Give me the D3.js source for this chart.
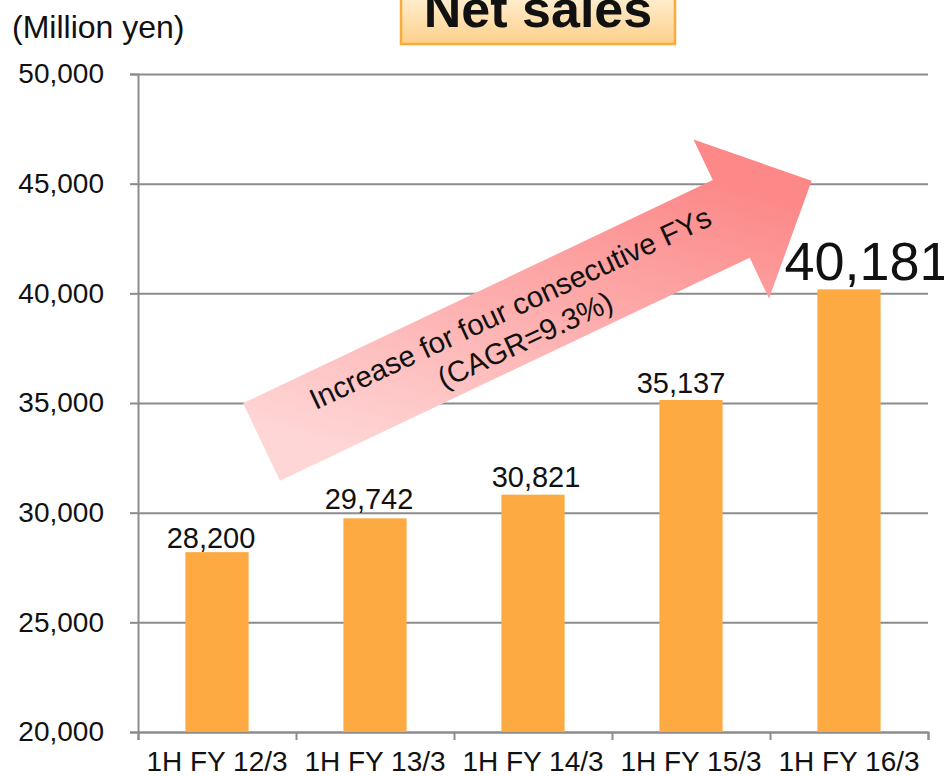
<!DOCTYPE html>
<html>
<head>
<meta charset="utf-8">
<script src="https://cdn.jsdelivr.net/npm/d3@7/dist/d3.min.js"></script>
<style>
  html, body { margin: 0; padding: 0; background: #fff; }
  svg { display: block; font-family: Arial, "Liberation Sans", sans-serif; }
</style>
</head>
<body>
<svg id="chart" width="944" height="776"></svg>
<script>
const categories = ["1H FY 12/3", "1H FY 13/3", "1H FY 14/3", "1H FY 15/3", "1H FY 16/3"];
const netSales = [28200, 29742, 30821, 35137, 40181];
const yTicks = [20000, 25000, 30000, 35000, 40000, 45000, 50000];
const unitLabel = "(Million yen)";
const titleText = "Net sales";
const arrowLines = ["Increase for four consecutive FYs", "(CAGR=9.3%)"];

// layout nudges for value labels (pixels)
const labelDx = [-6, -6, 3, -10, 18];
const labelDy = [4, 9, 8, 7, 9];

const svg = d3.select("#chart");
const plotL = 138, plotR = 928, plotT = 74, plotB = 732;

const y = d3.scaleLinear().domain([20000, 50000]).range([plotB, plotT]);
const x = d3.scaleBand().domain(categories).range([plotL, plotR]).paddingInner(0.6).paddingOuter(0.3);

const defs = svg.append("defs");
const ag = defs.append("linearGradient").attr("id", "arrowGrad")
  .attr("gradientUnits", "userSpaceOnUse")
  .attr("x1", 580).attr("y1", 140).attr("x2", 480).attr("y2", 490);
ag.append("stop").attr("offset", "0%").attr("stop-color", "#fc8888");
ag.append("stop").attr("offset", "100%").attr("stop-color", "#ffd6d6");
const tg = defs.append("linearGradient").attr("id", "titleGrad")
  .attr("x1", 0).attr("y1", 0).attr("x2", 0).attr("y2", 1);
tg.append("stop").attr("offset", "0%").attr("stop-color", "#fff3dd");
tg.append("stop").attr("offset", "100%").attr("stop-color", "#fdd08a");

// gridlines
const grid = svg.append("g").attr("transform", `translate(${plotL},0)`)
  .call(d3.axisLeft(y).tickValues(yTicks).tickSize(-(plotR - plotL)).tickFormat(""));
grid.select(".domain").remove();
grid.selectAll(".tick line").attr("stroke", "#8c8c8c").attr("stroke-width", 2);

// y axis with labels
const yAxis = svg.append("g").attr("transform", `translate(${plotL},0)`)
  .call(d3.axisLeft(y).tickValues(yTicks).tickSize(8).tickPadding(26).tickFormat(d3.format(",")));
yAxis.select(".domain").attr("stroke", "#8c8c8c").attr("stroke-width", 2);
yAxis.selectAll(".tick line").attr("stroke", "#8c8c8c").attr("stroke-width", 2);
yAxis.selectAll(".tick text").attr("font-size", 28).attr("fill", "#111").attr("font-family", "Arial, 'Liberation Sans', sans-serif");

// x axis ticks at band boundaries
const xb = d3.scaleLinear().domain([0, categories.length]).range([plotL, plotR]);
const xTickAxis = svg.append("g").attr("transform", `translate(0,${plotB})`)
  .call(d3.axisBottom(xb).ticks(categories.length).tickSize(8).tickFormat(""));
xTickAxis.select(".domain").attr("stroke", "#8c8c8c").attr("stroke-width", 2);
xTickAxis.selectAll(".tick line").attr("stroke", "#8c8c8c").attr("stroke-width", 2);

const xAxis = svg.append("g").attr("transform", `translate(0,${plotB})`)
  .call(d3.axisBottom(x).tickSize(0).tickPadding(19));
xAxis.select(".domain").remove();
xAxis.selectAll(".tick text").attr("font-size", 28).attr("fill", "#111").attr("font-family", "Arial, 'Liberation Sans', sans-serif");

// bars
svg.append("g").selectAll("rect").data(netSales).join("rect")
  .attr("x", (d, i) => x(categories[i]))
  .attr("y", d => y(d))
  .attr("width", x.bandwidth())
  .attr("height", d => y(20000) - y(d))
  .attr("fill", "#fcaa41");

// arrow annotation
const tail = [261.5, 442];
const ang = -25.4;
const shaftHalf = 43, headHalf = 88, neck = 520, tipLen = 609;
const pts = [[0, -shaftHalf], [neck, -shaftHalf], [neck, -headHalf], [tipLen, 0], [neck, headHalf], [neck, shaftHalf], [0, shaftHalf]];
const rad = ang * Math.PI / 180;
const abs = pts.map(([px, py]) => [tail[0] + px * Math.cos(rad) - py * Math.sin(rad), tail[1] + px * Math.sin(rad) + py * Math.cos(rad)]);
svg.append("path").attr("d", d3.line()(abs) + "Z").attr("fill", "url(#arrowGrad)");
const txtG = svg.append("g").attr("transform", `translate(${tail[0]},${tail[1]}) rotate(-25)`);
txtG.selectAll("text").data(arrowLines).join("text")
  .attr("x", 282)
  .attr("y", (d, i) => i === 0 ? -6 : 29)
  .attr("text-anchor", "middle")
  .attr("font-size", 29.5)
  .attr("fill", "#111")
  .text(d => d);

// value labels
svg.append("g").selectAll("text").data(netSales).join("text")
  .attr("x", (d, i) => x(categories[i]) + x.bandwidth() / 2 + labelDx[i])
  .attr("y", (d, i) => y(d) - labelDy[i])
  .attr("text-anchor", "middle")
  .attr("font-size", (d, i) => i === netSales.length - 1 ? 54 : 29)
  .attr("fill", "#111")
  .text(d => d3.format(",")(d));

// unit label
svg.append("text").attr("x", 12).attr("y", 38).attr("font-size", 32).attr("fill", "#111").text(unitLabel);

// title box
svg.append("rect").attr("x", 401).attr("y", -12).attr("width", 274).attr("height", 56)
  .attr("fill", "url(#titleGrad)").attr("stroke", "#f9ab3c").attr("stroke-width", 2.5);
svg.append("text").attr("x", 538).attr("y", 27).attr("text-anchor", "middle")
  .attr("font-size", 52).attr("font-weight", "bold").attr("fill", "#111").text(titleText);
</script>
</body>
</html>
